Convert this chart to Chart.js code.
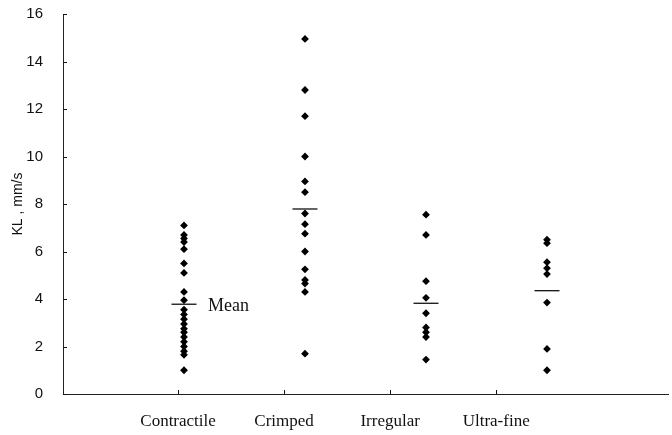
<!DOCTYPE html>
<html>
<head>
<meta charset="utf-8">
<script src="https://cdn.jsdelivr.net/npm/chart.js@4/dist/chart.umd.min.js"></script>
<style>
  html, body { margin: 0; padding: 0; background: #fff; }
  #wrap { width: 672px; height: 435px; }
</style>
</head>
<body>
<div id="wrap"><canvas id="klChart" width="672" height="435"></canvas></div>
<script>
// fibre groups along the x axis
const categories = ['Contractile', 'Crimped', 'Irregular', 'Ultra-fine'];

// KL values (mm/s), one list per group
const contractile = [7.1, 6.7, 6.55, 6.4, 6.1, 5.5, 5.1, 4.3, 3.95, 3.55, 3.35, 3.15, 2.95, 2.75, 2.6, 2.4, 2.2, 2.0, 1.8, 1.65, 1.0];
const crimped = [14.95, 12.8, 11.7, 10.0, 8.95, 8.5, 7.6, 7.15, 6.75, 6.0, 5.25, 4.8, 4.65, 4.3, 1.7];
const irregular = [7.55, 6.7, 4.75, 4.05, 3.4, 2.8, 2.6, 2.4, 1.45];
const ultraFine = [6.5, 6.35, 5.55, 5.3, 5.05, 3.85, 1.9, 1.0];

// group means (short horizontal marks)
const means = [3.78, 7.79, 3.82, 4.35];

const yTicks = [0, 2, 4, 6, 8, 10, 12, 14, 16];

const groups = [contractile, crimped, irregular, ultraFine];
const points = [];
groups.forEach((vals, i) => vals.forEach(v => points.push({ x: i, y: v })));
const meanPoints = means.map((m, i) => ({ x: i, y: m }));

// small inward ticks, plus the "Mean" note next to the first mean mark
const axisDecor = {
  id: 'axisDecor',
  afterDraw(chart) {
    const { ctx, chartArea, scales } = chart;
    ctx.save();
    ctx.strokeStyle = '#111';
    ctx.lineWidth = 1;
    yTicks.forEach(t => {
      const y = Math.round(scales.y.getPixelForValue(t)) + 0.5;
      ctx.beginPath();
      ctx.moveTo(chartArea.left, y);
      ctx.lineTo(chartArea.left + 4, y);
      ctx.stroke();
    });
    categories.forEach((c, i) => {
      const x = Math.round(scales.xl.getPixelForValue(i)) + 0.5;
      ctx.beginPath();
      ctx.moveTo(x, chartArea.bottom);
      ctx.lineTo(x, chartArea.bottom - 4);
      ctx.stroke();
    });
    ctx.fillStyle = '#111';
    ctx.font = '18px "Liberation Serif", serif';
    ctx.textBaseline = 'middle';
    ctx.textAlign = 'left';
    ctx.fillText('Mean', scales.x.getPixelForValue(0) + 24, scales.y.getPixelForValue(means[0]) + 2);
    ctx.restore();
  }
};

new Chart(document.getElementById('klChart').getContext('2d'), {
  type: 'scatter',
  data: {
    datasets: [
      {
        label: 'KL',
        data: points,
        pointStyle: 'rectRot',
        pointRadius: 3.9,
        backgroundColor: '#000',
        borderColor: '#000',
        borderWidth: 0
      },
      {
        label: 'Mean',
        data: meanPoints,
        pointStyle: 'line',
        pointRadius: 12.5,
        borderColor: '#111',
        borderWidth: 1.3
      }
    ]
  },
  options: {
    responsive: false,
    animation: false,
    layout: { autoPadding: false, padding: { top: 0, right: 4, left: 0, bottom: 0 } },
    plugins: { legend: { display: false }, tooltip: { enabled: false } },
    scales: {
      x: {
        type: 'linear',
        position: 'bottom',
        min: -1,
        max: 4,
        grid: { display: false, drawTicks: false },
        border: { display: true, color: '#222', width: 1 },
        ticks: { display: false },
        afterFit(scale) { scale.height = 0; }
      },
      xl: {
        type: 'linear',
        position: 'bottom',
        min: -1.085,
        max: 4.62,
        grid: { display: false, drawTicks: false },
        border: { display: false },
        afterBuildTicks(scale) { scale.ticks = categories.map((c, i) => ({ value: i })); },
        ticks: {
          padding: 17,
          color: '#111',
          font: { family: '"Liberation Serif", serif', size: 17 },
          callback: (v) => categories[v]
        },
        afterFit(scale) { scale.height = 41; }
      },
      y: {
        min: 0,
        max: 16,
        grid: { display: false, drawTicks: false },
        border: { display: true, color: '#222', width: 1 },
        afterBuildTicks(scale) { scale.ticks = yTicks.map(v => ({ value: v })); },
        ticks: {
          padding: 20,
          color: '#111',
          font: { family: '"Liberation Sans", Arial, sans-serif', size: 15 }
        },
        title: {
          display: true,
          text: 'KL , mm/s',
          color: '#111',
          padding: { top: 10, bottom: 0 },
          font: { family: '"Liberation Sans", Arial, sans-serif', size: 14 }
        },
        afterFit(scale) {
          scale.width = 63;
          scale.paddingTop = 14;
          scale.paddingBottom = 0;
        }
      }
    }
  },
  plugins: [axisDecor]
});
</script>
</body>
</html>
